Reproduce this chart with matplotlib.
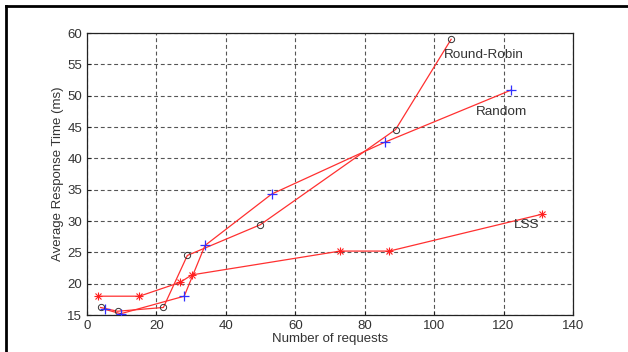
import matplotlib
matplotlib.use("Agg")
import matplotlib.pyplot as plt
from matplotlib.lines import Line2D

rr_x = [3.9, 8.8, 22.0, 28.9, 49.9, 88.9, 104.9]
rr_y = [16.2, 15.6, 16.2, 24.5, 29.4, 44.6, 59.0]
rand_x = [5.2, 9.7, 28.0, 34.0, 53.2, 85.9, 122.2]
rand_y = [15.9, 15.2, 18.0, 26.1, 34.3, 42.6, 50.9]
lss_x = [3.3, 15.1, 26.8, 30.2, 72.9, 87.1, 131.2]
lss_y = [18.0, 18.0, 20.2, 21.4, 25.2, 25.2, 31.1]

labels = ["Round-Robin", "Random", "LSS"]
label_pos = [(102.9, 56.5), (112.1, 47.4), (123.0, 29.4)]

plt.rcParams['font.family'] = ['Liberation Sans', 'DejaVu Sans']
fig = plt.figure(figsize=(6.28, 3.52), dpi=100)
ax = fig.add_axes([87/628, 37/352, 486/628, 282/352])

ax.plot(rr_x, rr_y, color='#ff3030', lw=0.9, zorder=3)
ax.plot(rr_x, rr_y, ls='none', marker='o', ms=4.5, mfc='none', mec='#333333', mew=0.7, zorder=4)
ax.plot(rand_x, rand_y, color='#ff3030', lw=0.9, zorder=3)
ax.plot(rand_x, rand_y, ls='none', marker='+', ms=6.5, mec='#3030ff', mew=0.9, zorder=4)
ax.plot(lss_x, lss_y, color='#ff3030', lw=0.9, zorder=3)
ax.plot(lss_x, lss_y, ls='none', marker='+', ms=6, mec='#ff2020', mew=0.8, zorder=4)
ax.plot(lss_x, lss_y, ls='none', marker='x', ms=4.5, mec='#ff2020', mew=0.8, zorder=4)

for t, (x, y) in zip(labels, label_pos):
    ax.text(x, y, t, fontsize=9.7, color='#333333', va='center', ha='left')

ax.set_xlim(0, 140)
ax.set_ylim(15, 60)
ax.set_xticks(range(0, 141, 20))
ax.set_yticks(range(15, 61, 5))
ax.grid(True, ls=(0, (3.5, 2.5)), color='#555555', lw=0.8)
ax.tick_params(direction='in', length=3, labelsize=9.5, colors='#222222', labelcolor='#333333')
for s in ax.spines.values():
    s.set_color('#222222')
    s.set_linewidth(0.9)
ax.set_xlabel("Number of requests", fontsize=9.5, color='#333333', labelpad=1)
ax.set_ylabel("Average Response Time (ms)", fontsize=9.5, color='#333333', labelpad=2)

fig.add_artist(Line2D([6/628, 6/628], [0, 1 - 6/352], transform=fig.transFigure, color='black', lw=2))
fig.add_artist(Line2D([6/628, 1], [1 - 6/352, 1 - 6/352], transform=fig.transFigure, color='black', lw=2))

fig.savefig("out.png", dpi=100)
